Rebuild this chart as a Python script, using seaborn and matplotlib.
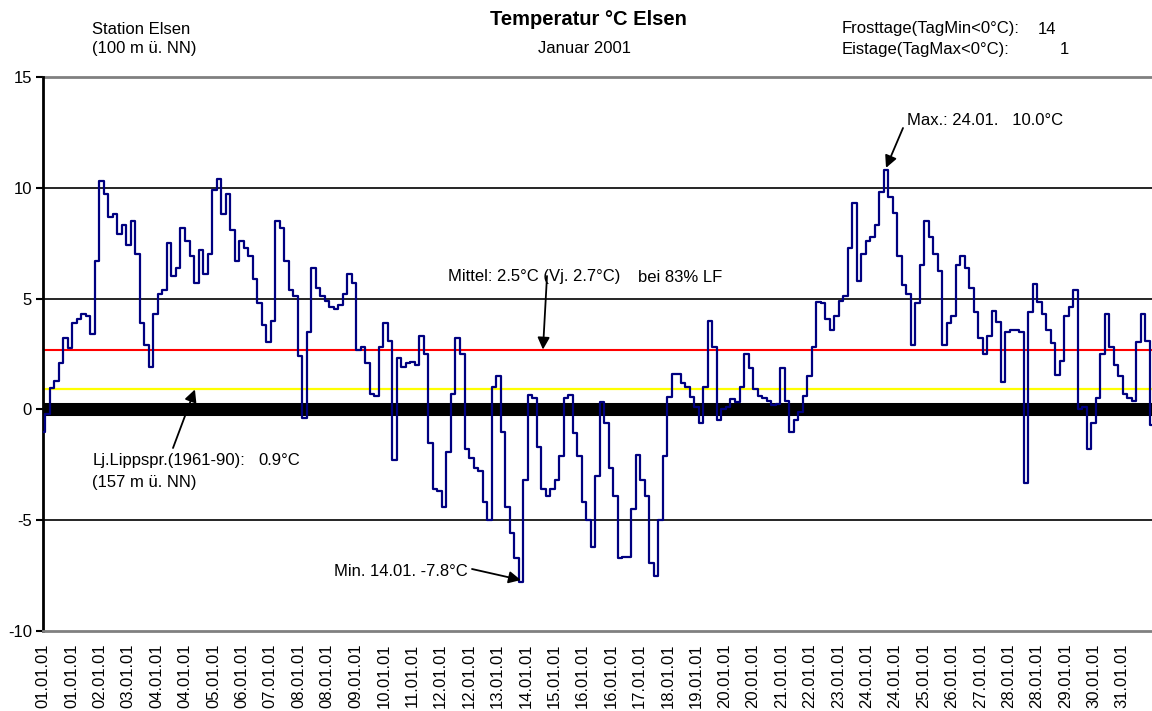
import numpy as np
import pandas as pd
import matplotlib
matplotlib.use("Agg")
import matplotlib.pyplot as plt
import seaborn as sns

# ---------------- data (3-hourly temperature readings, °C) ----------------
temps = [
    -1.0, -0.2, 0.95, 1.3, 2.1, 3.2, 2.75, 3.9, 4.1, 4.3,
    4.2, 3.4, 6.7, 10.3, 9.7, 8.7, 8.8, 7.9, 8.3, 7.4,
    8.5, 7.0, 3.9, 2.9, 1.9, 4.3, 5.2, 5.4, 7.5, 6.0,
    6.4, 8.2, 7.6, 6.9, 5.7, 7.2, 6.1, 7.0, 9.9, 10.4,
    8.8, 9.7, 8.1, 6.7, 7.6, 7.3, 6.9, 5.9, 4.8, 3.8,
    3.05, 4.0, 8.5, 8.2, 6.7, 5.4, 5.1, 2.4, -0.4, 3.5,
    6.4, 5.5, 5.1, 4.9, 4.6, 4.55, 4.7, 5.2, 6.1, 5.7,
    2.7, 2.8, 2.1, 0.7, 0.6, 2.8, 3.9, 3.1, -2.3, 2.3,
    1.9, 2.1, 2.15, 2.0, 3.3, 2.5, -1.5, -3.6, -3.7, -4.4,
    -1.9, 0.7, 3.2, 2.5, -1.8, -2.2, -2.65, -2.8, -4.2, -5.0,
    1.0, 1.5, -1.0, -4.4, -5.6, -6.7, -7.8, -3.2, 0.65, 0.5,
    -1.7, -3.6, -3.9, -3.6, -3.2, -2.1, 0.5, 0.65, -1.05, -2.1,
    -4.2, -5.0, -6.2, -3.0, 0.35, -0.6, -2.65, -3.9, -6.7, -6.65,
    -6.65, -4.5, -2.05, -3.2, -3.9, -6.95, -7.5, -5.0, -2.1, 0.55,
    1.6, 1.6, 1.2, 1.0, 0.55, 0.1, -0.6, 1.0, 4.0, 2.8,
    -0.5, 0.0, 0.1, 0.45, 0.35, 1.0, 2.5, 1.85, 0.9, 0.6,
    0.5, 0.4, 0.2, 0.25, 1.85, 0.4, -1.0, -0.5, -0.1, 0.6,
    1.5, 2.8, 4.85, 4.8, 4.1, 3.6, 4.2, 4.9, 5.1, 7.3,
    9.3, 5.8, 7.0, 7.6, 7.8, 8.3, 9.8, 10.8, 9.6, 8.85,
    6.9, 5.6, 5.2, 2.9, 4.8, 6.5, 8.5, 7.8, 7.0, 6.25,
    2.9, 3.9, 4.2, 6.5, 6.9, 6.4, 5.5, 4.4, 3.2, 2.5,
    3.3, 4.45, 3.95, 1.25, 3.5, 3.6, 3.6, 3.5, -3.3, 4.4,
    5.65, 4.85, 4.3, 3.6, 3.0, 1.55, 2.2, 4.2, 4.6, 5.4,
    0.0, 0.1, -1.8, -0.6, 0.5, 2.5, 4.3, 2.8, 2.0, 1.5,
    0.7, 0.5, 0.4, 3.05, 4.3, 3.1, -0.7,
]
sample_idx = list(range(len(temps)))

tick_labels = [
    "01.01.01", "01.01.01", "02.01.01", "03.01.01", "04.01.01", "04.01.01",
    "05.01.01", "06.01.01", "07.01.01", "08.01.01", "08.01.01", "09.01.01",
    "10.01.01", "11.01.01", "12.01.01", "12.01.01", "13.01.01", "14.01.01",
    "15.01.01", "16.01.01", "16.01.01", "17.01.01", "18.01.01", "19.01.01",
    "20.01.01", "20.01.01", "21.01.01", "22.01.01", "23.01.01", "24.01.01",
    "24.01.01", "25.01.01", "26.01.01", "27.01.01", "28.01.01", "28.01.01",
    "29.01.01", "30.01.01", "31.01.01",
]
samples_per_label = 6.3

mean_prev_year = 2.7      # Vj. mean (red line)
longterm_mean = 0.9       # Lj. Lippspringe (yellow line)
max_val, max_idx = 10.8, 187
min_val, min_idx = -7.8, 106

df = pd.DataFrame({"idx": sample_idx, "temp": temps})

# ---------------- figure ----------------
W, H = 1152, 711
sns.set_style("white")
plt.rcParams["font.family"] = ["Liberation Sans", "DejaVu Sans"]
plt.rcParams["axes.unicode_minus"] = False
plt.rcParams["text.color"] = "black"
plt.rcParams["xtick.color"] = "black"
plt.rcParams["ytick.color"] = "black"
plt.rcParams["xtick.labelcolor"] = "black"
plt.rcParams["ytick.labelcolor"] = "black"

fig = plt.figure(figsize=(W / 100, H / 100), dpi=100)
ax = fig.add_axes([43 / W, 1 - 631 / H, (1152 - 43) / W, (631 - 77) / H])

def fpx(px, py):
    return (px, H - py)

# reference lines
for yv in (10, 5, -5):
    ax.axhline(yv, color="black", lw=1.2, zorder=1)
ax.axhline(15, color="#808080", lw=2.0, zorder=1, clip_on=False)
ax.axhline(0, color="black", lw=9.4, zorder=1)
ax.axhline(mean_prev_year, color="#ff0000", lw=1.5, zorder=2)
ax.axhline(longterm_mean, color="#ffff00", lw=1.6, zorder=2)

sns.lineplot(data=df, x="idx", y="temp", ax=ax, color="#000080", lw=1.6,
             zorder=3, legend=False, drawstyle="steps-mid")

ax.set_xlim(0, len(temps) - 1)
ax.set_ylim(-10, 15)
ax.set_yticks([-10, -5, 0, 5, 10, 15])
ax.set_yticklabels(["-10", "-5", "0", "5", "10", "15"])
ax.set_xticks([i * samples_per_label for i in range(len(tick_labels))])
ax.set_xticklabels(tick_labels, rotation=90)
ax.set_xlabel("")
ax.set_ylabel("")
ax.tick_params(axis="y", direction="out", length=5, width=1.5, color="black",
               labelsize=12, pad=3, left=True, labelcolor="black")
ax.tick_params(axis="x", length=0, labelsize=12, pad=9, labelcolor="black")

for s in ("top", "right"):
    ax.spines[s].set_visible(False)
ax.spines["left"].set_color("black")
ax.spines["left"].set_linewidth(2.0)
ax.spines["bottom"].set_color("#808080")
ax.spines["bottom"].set_linewidth(2.0)

# ---------------- header texts ----------------
def ftext(px, py, s, size=12, **kw):
    fig.text(px / W, 1 - py / H, s, va="baseline", fontsize=size,
             color="black", **kw)

ftext(92.5, 33.5, "Station Elsen")
ftext(92.5, 53, "(100 m ü. NN)")
ftext(588, 25, "Temperatur °C Elsen", size=14.5, ha="center", fontweight="bold")
ftext(585, 53, "Januar 2001", ha="center")
ftext(842, 33.5, "Frosttage(TagMin<0°C):")
ftext(1038, 33.5, "14")
ftext(842, 54, "Eistage(TagMax<0°C):")
ftext(1060, 54, "1")

# ---------------- annotations ----------------
arrow = dict(arrowstyle="-|>", color="black", lw=1.3, mutation_scale=18,
             shrinkA=0, shrinkB=0)

ftext(907, 125, "Max.: 24.01.   10.0°C")
ax.annotate("", xy=(max_idx, max_val + 0.1), xycoords="data",
            xytext=fpx(903, 128), textcoords="figure pixels", arrowprops=arrow)

ftext(448, 281.5, "Mittel: 2.5°C (Vj. 2.7°C)")
ftext(638, 281.5, "bei 83% LF")
ax.annotate("", xy=(110.9, mean_prev_year), xycoords="data",
            xytext=fpx(547, 276), textcoords="figure pixels", arrowprops=arrow)

ftext(92.5, 465, "Lj.Lippspr.(1961-90):")
ftext(258, 465, "0.9°C")
ftext(92.5, 486.5, "(157 m ü. NN)")
ax.annotate("", xy=(33.7, longterm_mean), xycoords="data",
            xytext=fpx(173, 448), textcoords="figure pixels", arrowprops=arrow)

ftext(334, 576.5, "Min. 14.01. -7.8°C")
ax.annotate("", xy=(min_idx, min_val + 0.1), xycoords="data",
            xytext=fpx(472, 569), textcoords="figure pixels", arrowprops=arrow)

fig.savefig("out.png", dpi=100)
